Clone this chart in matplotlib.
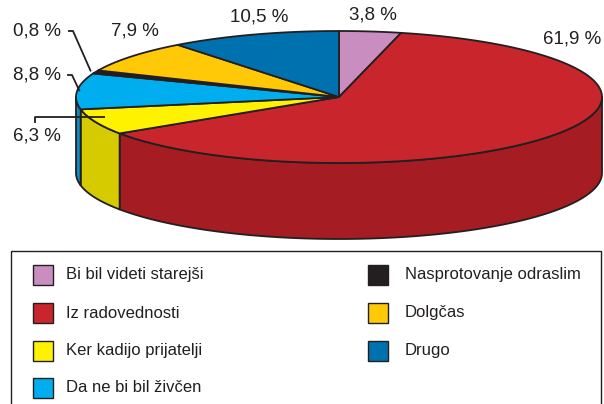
import numpy as np
import matplotlib
matplotlib.use("Agg")
import matplotlib.pyplot as plt
from matplotlib.patches import Polygon, Rectangle

plt.rcParams['font.family'] = ['Liberation Sans', 'DejaVu Sans']

# ---- data ----
categories = ["Bi bil videti starejši", "Iz radovednosti", "Ker kadijo prijatelji",
              "Da ne bi bil živčen", "Nasprotovanje odraslim", "Dolgčas", "Drugo"]
values = [3.8, 61.9, 6.3, 8.8, 0.8, 7.9, 10.5]
labels = ["3,8 %", "61,9 %", "6,3 %", "8,8 %", "0,8 %", "7,9 %", "10,5 %"]
top_colors = ["#C98DC0", "#C9252C", "#FFF200", "#00AEEF", "#231F20", "#FFC907", "#0071AF"]
side_colors = ["#A86E9F", "#A51C22", "#D6CA00", "#0A8CC4", "#111111", "#D4A500", "#005A8C"]

# ---- geometry (pixel coordinates) ----
cx, cy, rx, ry, depth = 339.0, 97.0, 263.0, 66.0, 76.0
edge = "#231F20"
lw = 1.3

fig = plt.figure(figsize=(6.04, 4.04), dpi=100)
ax = fig.add_axes([0, 0, 1, 1])
ax.set_xlim(0, 604)
ax.set_ylim(404, 0)
ax.axis('off')


def pt(t, off=0.0, f=1.0):
    return cx + f * rx * np.cos(t), cy - f * ry * np.sin(t) + off


total = sum(values)
angles = []
start = 90.0
for v in values:
    end = start - v / total * 360.0
    angles.append((start, end))
    start = end

# side faces (front half only: sin(t) < 0)
for (a0, a1), sc in zip(angles, side_colors):
    lo, hi = min(a0, a1), max(a0, a1)
    for k in range(-2, 2):
        f0, f1 = -180 + 360 * k, 0 + 360 * k
        s, e = max(lo, f0), min(hi, f1)
        if e > s:
            t = np.radians(np.linspace(s, e, 120))
            xs, ys = pt(t)
            xb, yb = pt(t[::-1], depth)
            poly = np.column_stack([np.concatenate([xs, xb]), np.concatenate([ys, yb])])
            ax.add_patch(Polygon(poly, closed=True, facecolor=sc, edgecolor=edge, lw=lw, joinstyle='round'))

# top wedges
for (a0, a1), tc in zip(angles, top_colors):
    t = np.radians(np.linspace(a0, a1, 200))
    xs, ys = pt(t)
    poly = np.column_stack([np.concatenate([[cx], xs]), np.concatenate([[cy], ys])])
    ax.add_patch(Polygon(poly, closed=True, facecolor=tc, edgecolor=edge, lw=lw, joinstyle='round'))

# ---- labels ----
label_pos = [(373, 15), (572, 39), (37, 136), (37, 75), (37, 31), (135, 31), (259, 17)]
for lab, (lx, ly) in zip(labels, label_pos):
    ax.text(lx, ly, lab, fontsize=13.5, ha='center', va='center', color="#231F20")

def mid(i):
    return np.radians((angles[i][0] + angles[i][1]) / 2)

# 0,8 %
mx, my = pt(mid(4), f=1.02)
ax.plot([68, 73, mx], [31, 31, my], color=edge, lw=1.3, solid_capstyle='butt')
# 8,8 %
mx, my = pt(mid(3), f=0.99)
ax.plot([67, 72, mx], [75, 75, my], color=edge, lw=1.3, solid_capstyle='butt')
# 6,3 %
mx, my = pt(mid(2), f=0.96)
ax.plot([35, 35, mx], [123, 117, 117], color=edge, lw=1.3, solid_capstyle='butt')

# ---- legend ----
ax.add_patch(Rectangle((10.5, 250.5), 590.5, 160, facecolor='none', edgecolor=edge, lw=1.0))
rows = [275, 313, 351, 388]
col_x = [(33, 66), (368, 405)]
for i, (name, c) in enumerate(zip(categories, top_colors)):
    col = 0 if i < 4 else 1
    row = i if i < 4 else i - 4
    sx, tx = col_x[col]
    y = rows[row]
    ax.add_patch(Rectangle((sx, y - 10), 20, 20, facecolor=c, edgecolor=edge, lw=1.0))
    ax.text(tx, y, name, fontsize=12, ha='left', va='center', color="#231F20")

fig.savefig("out.png", dpi=100)
